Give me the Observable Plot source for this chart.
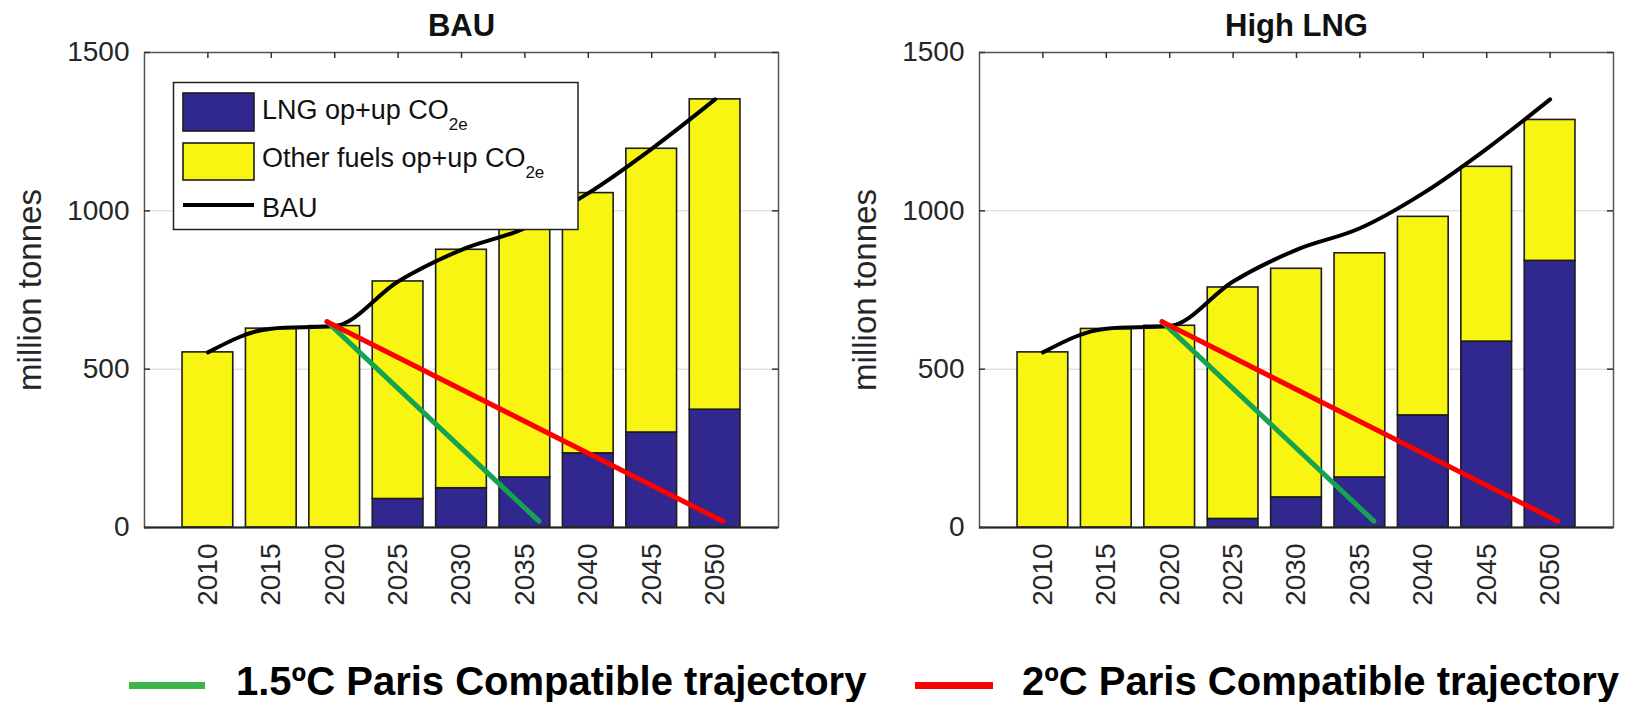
<!DOCTYPE html>
<html>
<head>
<meta charset="utf-8">
<script src="https://cdn.jsdelivr.net/npm/d3@7"></script>
<script src="https://cdn.jsdelivr.net/npm/@observablehq/plot@0.6"></script>
<style>
  html, body { margin: 0; padding: 0; background: #fff; }
  #page { position: relative; width: 1631px; height: 702px; overflow: hidden; font-family: "Liberation Sans", Arial, Helvetica, sans-serif; }
  #left, #right, #key { position: absolute; top: 0; }
  #left { left: 0; }
  #right { left: 800px; }
  #key { left: 0; top: 640px; }
</style>
</head>
<body>
<div id="page">
  <div id="left"></div>
  <div id="right"></div>
  <svg id="key" width="1631" height="62"></svg>
</div>
<script>
// Emission years shown on both panels
const years = [2010, 2015, 2020, 2025, 2030, 2035, 2040, 2045, 2050];
const yTicks = [0, 500, 1000, 1500];

// BAU scenario: total operational + upstream CO2e and the LNG share (million tonnes)
const bauTotal = [553, 628, 636, 777, 877, 945, 1056, 1196, 1352];
const bauLng   = [0, 0, 0, 90, 124, 158, 234, 300, 372];

// High LNG scenario
const highTotal = [553, 627, 637, 758, 817, 866, 981, 1139, 1287];
const highLng   = [0, 0, 0, 27, 95, 158, 354, 587, 842];

// Paris-compatible pathways (start and end points)
const path15Years = [2019.4, 2036.1];
const path15Values = [650, 20];
const path2Years = [2019.4, 2050.6];
const path2Values = [650, 20];

const blue = "#30288f";
const yellow = "#f8f512";
const green = "#14a350";
const red = "#ff0000";
const font = '"Liberation Sans", Arial, Helvetica, sans-serif';

function panel(title, total, lng, width, marginLeft, marginRight) {
  const height = 640, marginTop = 52, marginBottom = 113;
  const plotW = width - marginLeft - marginRight;
  const plotH = height - marginTop - marginBottom;
  const bars = years.map((year, i) => ({year, lng: lng[i], total: total[i]}));
  const bau = years.map((year, i) => ({year, value: bauTotal[i]}));
  const p15 = path15Years.map((year, i) => ({year, value: path15Values[i]}));
  const p2 = path2Years.map((year, i) => ({year, value: path2Values[i]}));
  return Plot.plot({
    width, height, marginTop, marginBottom, marginLeft, marginRight,
    x: {domain: [2005, 2055]},
    y: {domain: [0, 1500]},
    style: {fontFamily: font, color: "#262626", background: "transparent", overflow: "visible"},
    marks: [
      Plot.gridY([500, 1000], {stroke: "#d4d4d4", strokeOpacity: 1, strokeWidth: 1}),
      Plot.rect(bars, {x1: d => d.year - 2, x2: d => d.year + 2, y1: 0, y2: "lng",
        fill: blue, stroke: "#1c1c1c", strokeWidth: 1.6}),
      Plot.rect(bars, {x1: d => d.year - 2, x2: d => d.year + 2, y1: "lng", y2: "total",
        fill: yellow, stroke: "#1c1c1c", strokeWidth: 1.6}),
      Plot.line(bau, {x: "year", y: "value", curve: "monotone-x", stroke: "#000", strokeWidth: 4}),
      Plot.line(p15, {x: "year", y: "value", stroke: green, strokeWidth: 5}),
      Plot.line(p2, {x: "year", y: "value", stroke: red, strokeWidth: 5}),
      Plot.frame({stroke: "#555", strokeWidth: 1.5}),
      Plot.ruleY([0], {stroke: "#222", strokeWidth: 2}),
      // inward tick marks on all four sides
      Plot.tickX(years, {x: d => d, insetBottom: plotH - 6, stroke: "#333", strokeWidth: 1.5}),
      Plot.tickY(yTicks, {y: d => d, insetRight: plotW - 6, stroke: "#333", strokeWidth: 1.5}),
      Plot.tickY(yTicks, {y: d => d, insetLeft: plotW - 6, stroke: "#333", strokeWidth: 1.5}),
      Plot.axisX({anchor: "bottom", ticks: years, tickSize: 0, tickRotate: -90, tickPadding: 16,
        fontSize: 28, tickFormat: d => String(d), label: null}),
      Plot.axisY({anchor: "left", ticks: yTicks, tickSize: 0, tickPadding: 15,
        fontSize: 28, tickFormat: d => String(d), label: null}),
      Plot.text(["million tonnes"], {frameAnchor: "left", dx: -114, rotate: -90, fontSize: 33,
        textAnchor: "middle", lineAnchor: "middle"}),
      Plot.text([title], {frameAnchor: "top", dy: -26, fontSize: 31, fontWeight: "bold", fill: "#111",
        textAnchor: "middle", lineAnchor: "middle"})
    ]
  });
}

const leftChart = panel("BAU", bauTotal, bauLng, 800, 144, 22);
const rightChart = panel("High LNG", highTotal, highLng, 831, 179, 18);
document.getElementById("left").appendChild(leftChart);
document.getElementById("right").appendChild(rightChart);

// Series key inside the BAU panel
const g = d3.select(leftChart).append("g")
  .attr("font-family", font).attr("fill", "#111").attr("text-anchor", "start");
g.append("rect").attr("x", 173.5).attr("y", 82.5).attr("width", 404.5).attr("height", 147)
  .attr("fill", "#fff").attr("stroke", "#222").attr("stroke-width", 1.5);
g.append("rect").attr("x", 183).attr("y", 93).attr("width", 71).attr("height", 38)
  .attr("fill", blue).attr("stroke", "#1c1c1c").attr("stroke-width", 1.6);
g.append("rect").attr("x", 183).attr("y", 143).attr("width", 71).attr("height", 37)
  .attr("fill", yellow).attr("stroke", "#1c1c1c").attr("stroke-width", 1.6);
g.append("line").attr("x1", 183).attr("x2", 254).attr("y1", 205).attr("y2", 205)
  .attr("stroke", "#000").attr("stroke-width", 4);
const keyRows = [
  {main: "LNG op+up CO", sub: "2e", y: 119},
  {main: "Other fuels op+up CO", sub: "2e", y: 167},
  {main: "BAU", sub: "", y: 217}
];
for (const r of keyRows) {
  const t = g.append("text").attr("x", 262).attr("y", r.y).attr("font-size", 27)
    .attr("text-anchor", "start");
  t.append("tspan").text(r.main);
  if (r.sub) t.append("tspan").attr("dy", 11).attr("font-size", 17).text(r.sub);
}

// Pathway key below the panels
const key = d3.select("#key").attr("font-family", font);
const keyItems = [
  {label: "1.5ºC Paris Compatible trajectory", color: "#3cb44a", x1: 129, x2: 205, tx: 236},
  {label: "2ºC Paris Compatible trajectory", color: red, x1: 915, x2: 993, tx: 1022}
];
for (const k of keyItems) {
  key.append("line").attr("x1", k.x1).attr("x2", k.x2).attr("y1", 45.5).attr("y2", 45.5)
    .attr("stroke", k.color).attr("stroke-width", 7);
  key.append("text").attr("x", k.tx).attr("y", 55).attr("font-size", 40)
    .attr("font-weight", "bold").attr("fill", "#000").attr("text-anchor", "start").text(k.label);
}
</script>
</body>
</html>
